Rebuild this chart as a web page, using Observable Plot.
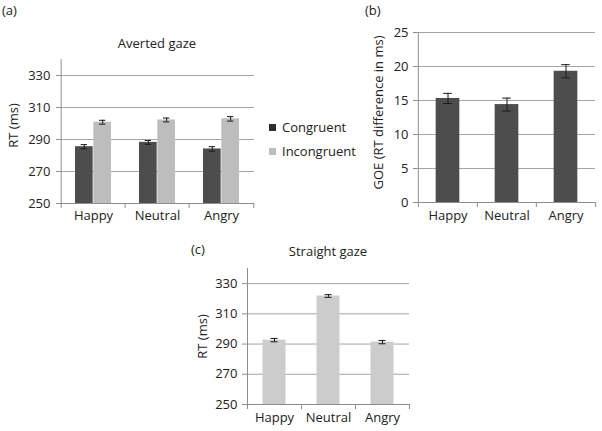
<!DOCTYPE html>
<html><head><meta charset="utf-8">
<script src="https://cdn.jsdelivr.net/npm/d3@7"></script>
<script src="https://cdn.jsdelivr.net/npm/@observablehq/plot@0.6"></script>
<style>
body{margin:0;background:#fff;}
#root{position:relative;width:602px;height:431px;font-family:"Open Sans",sans-serif;color:#222;overflow:hidden;background:#fff}
.abs{position:absolute;white-space:nowrap;font-size:13px;line-height:1;color:#222}
.sw{position:absolute;width:7px;height:7px}
</style></head><body><div id="root"></div>
<script>
// ---- data ----
const emotions = ["Happy", "Neutral", "Angry"];
const conditions = ["Congruent", "Incongruent"];
const avertedCongruent = [285.5, 288.2, 284.1];
const avertedCongruentErr = [1.3, 1.2, 1.4];
const avertedIncongruent = [300.8, 302.2, 302.9];
const avertedIncongruentErr = [1.2, 1.2, 1.4];
const goe = [15.3, 14.4, 19.3];
const goeErr = [0.75, 0.95, 0.97];
const straight = [292.6, 321.8, 291.3];
const straightErr = [1.1, 0.9, 1.1];
const rtTicks = [250, 270, 290, 310, 330];
const goeTicks = [0, 5, 10, 15, 20, 25];
const panelLabels = ["(a)", "(b)", "(c)"];
const titles = ["Averted gaze", "Straight gaze"];
const yLabels = ["RT (ms)", "GOE (RT difference in ms)"];

// ---- style ----
const DARK = "#4d4d4d", LIGHT_A = "#bdbdbd", LIGHT_C = "#cccccc";
const GRID = "#a5a5a5", AXIS = "#8e8e8e", TEXT = "#222", ERR = "#1a1a1a";
const FONT = '"Open Sans", sans-serif';
const root = document.getElementById("root");

function rows(vals, errs) { return emotions.map((e, i) => ({emotion: e, value: vals[i], err: errs[i]})); }

function place(svg, left, top) {
  svg.style.position = "absolute";
  svg.style.left = left + "px";
  svg.style.top = top + "px";
  svg.style.background = "transparent";
  svg.style.overflow = "visible";
  root.appendChild(svg);
}
function html(text, left, top, extra) {
  const d = document.createElement("div");
  d.className = "abs";
  d.textContent = text;
  d.style.left = left + "px";
  d.style.top = top + "px";
  if (extra) Object.assign(d.style, extra);
  root.appendChild(d);
}

// common axis marks
function frameMarks({cats, ymin, ymax, ticks, band, pxPerUnit, tickPad, xPad, tickSize}) {
  const tl = 5 / pxPerUnit;
  return [
    Plot.ruleY(ticks.filter(t => t > ymin), {y: d => d, stroke: GRID, strokeWidth: 1}),
    Plot.ruleY([ymin], {y: d => d, stroke: AXIS}),
    Plot.ruleX(cats.slice(0, 1), {x: d => d, dx: -band / 2, y1: () => ymin - tl, y2: () => ymax, stroke: AXIS}),
    Plot.ruleX(cats.slice(1), {x: d => d, dx: -band / 2, y1: () => ymin - tl, y2: () => ymin, stroke: AXIS}),
    Plot.ruleX(cats.slice(-1), {x: d => d, dx: band / 2, y1: () => ymin - tl, y2: () => ymin, stroke: AXIS}),
    Plot.axisY({ticks, tickSize, tickFormat: () => "", stroke: AXIS, label: null}),
    Plot.axisY({ticks, tickSize: 0, tickPadding: tickPad, color: TEXT, fontSize: 13, label: null}),
    Plot.axisX({tickSize: 0, tickPadding: xPad, color: TEXT, fontSize: 13, label: null})
  ];
}
function errMarks(data, dx, band, cap) {
  const ins = (band - cap) / 2;
  return [
    Plot.ruleX(data, {x: "emotion", y1: d => d.value - d.err, y2: d => d.value + d.err, dx, stroke: ERR}),
    Plot.tickY(data, {x: "emotion", y: d => d.value + d.err, dx, insetLeft: ins, insetRight: ins, stroke: ERR}),
    Plot.tickY(data, {x: "emotion", y: d => d.value - d.err, dx, insetLeft: ins, insetRight: ins, stroke: ERR})
  ];
}
function yLabel(text, dx, dy) {
  return Plot.text([text], {text: d => d, frameAnchor: "left", textAnchor: "middle", lineAnchor: "middle",
    rotate: -90, dx, dy, fontSize: 13, fill: TEXT});
}
const svgStyle = {fontFamily: FONT, fontSize: "13px", background: "transparent", overflow: "visible", color: TEXT};

// ---- panel (a) ----
{
  const W = 262, H = 230, mL = 60, mR = 8, mT = 59, mB = 27;
  const band = (W - mL - mR) / emotions.length;
  const pxPerUnit = (H - mT - mB) / 90;
  const gap = band * 0.2165, bw = (band - 2 * gap) / 2;
  const cong = rows(avertedCongruent, avertedCongruentErr);
  const inc = rows(avertedIncongruent, avertedIncongruentErr);
  const off = bw / 2;
  const svg = Plot.plot({
    width: W, height: H, marginLeft: mL, marginRight: mR, marginTop: mT, marginBottom: mB,
    style: svgStyle,
    x: {domain: emotions, padding: 0},
    y: {domain: [250, 340]},
    marks: [
      ...frameMarks({cats: emotions, ymin: 250, ymax: 340, ticks: rtTicks, band, pxPerUnit, tickPad: 10, xPad: 7, tickSize: 4}),
      Plot.barY(cong, {x: "emotion", y1: () => 250, y2: "value", fill: DARK, insetLeft: gap, insetRight: gap + bw}),
      Plot.barY(inc, {x: "emotion", y1: () => 250, y2: "value", fill: LIGHT_A, insetLeft: gap + bw, insetRight: gap}),
      ...errMarks(cong, -off, band, 7),
      ...errMarks(inc, off, band, 7),
      yLabel(yLabels[0], -47, -6)
    ]
  });
  place(svg, 0, 0);
  html(panelLabels[0], 2, 4);
  html(titles[0], 157, 37, {transform: "translateX(-50%)"});
  // legend
  const sw1 = document.createElement("div"); sw1.className = "sw";
  Object.assign(sw1.style, {left: "269px", top: "124px", background: "#2e2e2e"});
  root.appendChild(sw1);
  const sw2 = document.createElement("div"); sw2.className = "sw";
  Object.assign(sw2.style, {left: "269px", top: "148px", background: LIGHT_A});
  root.appendChild(sw2);
  html(conditions[0], 282, 121);
  html(conditions[1], 282, 144.5);
}

// ---- panel (b) ----
{
  const W = 302, H = 230, mL = 117, mR = 7, mT = 32, mB = 28;
  const band = (W - mL - mR) / emotions.length;
  const pxPerUnit = (H - mT - mB) / 25;
  const ins = (band - 24) / 2;
  const data = rows(goe, goeErr);
  const svg = Plot.plot({
    width: W, height: H, marginLeft: mL, marginRight: mR, marginTop: mT, marginBottom: mB,
    style: svgStyle,
    x: {domain: emotions, padding: 0},
    y: {domain: [0, 25]},
    marks: [
      ...frameMarks({cats: emotions, ymin: 0, ymax: 25, ticks: goeTicks, band, pxPerUnit, tickPad: 9, xPad: 8, tickSize: 4}),
      Plot.barY(data, {x: "emotion", y1: () => 0, y2: "value", fill: DARK, insetLeft: ins, insetRight: ins}),
      ...errMarks(data, 0, band, 9),
      yLabel(yLabels[1], -39, -5)
    ]
  });
  place(svg, 300, 0);
  html(panelLabels[1], 365, 4);
}

// ---- panel (c) ----
{
  const W = 270, H = 190, mL = 97, mR = 11, mT = 28, mB = 26;
  const band = (W - mL - mR) / emotions.length;
  const pxPerUnit = (H - mT - mB) / 90;
  const ins = (band - 23) / 2;
  const data = rows(straight, straightErr);
  const svg = Plot.plot({
    width: W, height: H, marginLeft: mL, marginRight: mR, marginTop: mT, marginBottom: mB,
    style: svgStyle,
    x: {domain: emotions, padding: 0},
    y: {domain: [250, 340]},
    marks: [
      ...frameMarks({cats: emotions, ymin: 250, ymax: 340, ticks: rtTicks, band, pxPerUnit, tickPad: 10, xPad: 8, tickSize: 5}),
      Plot.barY(data, {x: "emotion", y1: () => 250, y2: "value", fill: LIGHT_C, insetLeft: ins, insetRight: ins}),
      ...errMarks(data, 0, band, 7),
      yLabel(yLabels[0], -45, 0)
    ]
  });
  place(svg, 150, 240);
  html(panelLabels[2], 191, 242.5);
  html(titles[1], 328, 244.5, {transform: "translateX(-50%)"});
}
</script></body></html>
